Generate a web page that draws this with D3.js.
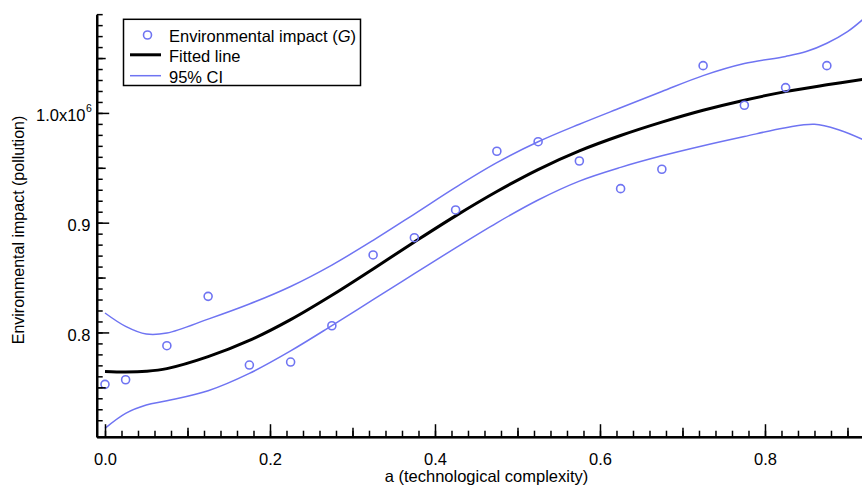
<!DOCTYPE html>
<html>
<head>
<meta charset="utf-8">
<script src="https://cdn.jsdelivr.net/npm/d3@7"></script>
<style>
  html, body { margin: 0; padding: 0; background: #fff; }
  svg { display: block; font-family: Arial, "Liberation Sans", sans-serif; }
</style>
</head>
<body>
<svg id="chart" width="862" height="486"></svg>
<script>
// Observed environmental impact (pollution) against technological complexity a
const pointX = [0, 0.025, 0.075, 0.125, 0.175, 0.225, 0.275, 0.325, 0.375, 0.425,
                0.475, 0.525, 0.575, 0.625, 0.675, 0.725, 0.775, 0.825, 0.875];
const pointY = [752700, 756900, 787900, 832900, 770300, 773000, 806100, 870600, 886300, 911600,
                965100, 973800, 956200, 931000, 948700, 1043100, 1007000, 1023100, 1043100];

// Fitted curve
const fitX = [0, 0.025, 0.05, 0.075, 0.125, 0.175, 0.225, 0.275, 0.325, 0.375, 0.425,
              0.475, 0.525, 0.575, 0.625, 0.675, 0.725, 0.775, 0.825, 0.875, 0.918];
const fitY = [764500, 764000, 764600, 767000, 777900, 792700, 811700, 833900, 857900, 882400, 906200,
              928400, 948400, 965400, 979400, 991600, 1002400, 1011600, 1019400, 1025600, 1030500];

// Upper 95% confidence band
const upperX = [0, 0.025, 0.05, 0.075, 0.125, 0.175, 0.225, 0.275, 0.325, 0.375, 0.425,
                0.475, 0.525, 0.575, 0.625, 0.675, 0.725, 0.775, 0.825, 0.85, 0.875, 0.9, 0.918];
const upperY = [817700, 805500, 798500, 799400, 812100, 825900, 841900, 861400, 883900, 907900, 932200,
                954700, 973700, 989700, 1004700, 1019500, 1034000, 1045000, 1051500, 1055900, 1063500, 1074100, 1084800];

// Lower 95% confidence band
const lowerX = [0, 0.025, 0.05, 0.075, 0.125, 0.175, 0.225, 0.275, 0.325, 0.375, 0.425,
                0.475, 0.525, 0.575, 0.625, 0.675, 0.725, 0.775, 0.825, 0.86, 0.89, 0.918];
const lowerY = [712600, 726200, 733800, 737700, 746900, 762700, 783200, 806200, 829900, 853500, 877100,
                899900, 920700, 937900, 950400, 960900, 970100, 978500, 986500, 989700, 984500, 976000];

// Axis ticks and labels
const xMajorTicks = [0, 0.2, 0.4, 0.6, 0.8];
const xMajorLabels = ["0.0", "0.2", "0.4", "0.6", "0.8"];
const yMajorTicks = [800000, 900000, 1000000];
const yMajorLabels = ["0.8", "0.9", "1.0x10"];
const yLabelExponents = ["", "", "6"];

const legendLabels = ["Environmental impact (", "Fitted line", "95% CI"];
const xTitle = "a (technological complexity)";
const yTitle = "Environmental impact (pollution)";

const blue = "#6f74f2";
const svg = d3.select("#chart");

const x = d3.scaleLinear().domain([-0.01006, 0.9176]).range([96.7, 862]);
const y = d3.scaleLinear().domain([705000, 1089500]).range([436.7, 14.7]);

svg.append("defs").append("clipPath").attr("id", "plot-clip")
  .append("rect").attr("x", 96.7).attr("y", 0).attr("width", 862 - 96.7).attr("height", 436.7);

const line = d3.line().x(d => x(d[0])).y(d => y(d[1])).curve(d3.curveCatmullRom.alpha(0.5));
const pairs = (xs, ys) => xs.map((v, i) => [v, ys[i]]);

const plot = svg.append("g").attr("clip-path", "url(#plot-clip)");

// Confidence band edges
plot.append("path").datum(pairs(upperX, upperY)).attr("d", line)
  .attr("fill", "none").attr("stroke", blue).attr("stroke-width", 1.5);
plot.append("path").datum(pairs(lowerX, lowerY)).attr("d", line)
  .attr("fill", "none").attr("stroke", blue).attr("stroke-width", 1.5);

// Fitted line
plot.append("path").datum(pairs(fitX, fitY)).attr("d", line)
  .attr("fill", "none").attr("stroke", "#000").attr("stroke-width", 3);

// Observations
plot.selectAll("circle.obs").data(pairs(pointX, pointY)).join("circle")
  .attr("class", "obs")
  .attr("cx", d => x(d[0])).attr("cy", d => y(d[1])).attr("r", 4)
  .attr("fill", "none").attr("stroke", blue).attr("stroke-width", 1.6);

// X axis: minor (0.02), medium (0.1) and major (0.2) ticks pointing inward
const xMinor = d3.range(0, 0.9001, 0.02).map(v => +v.toFixed(2));
const xMedium = [0.1, 0.3, 0.5, 0.7, 0.9];
const xAxisG = svg.append("g").attr("transform", "translate(0,436.7)");
xAxisG.append("g").call(d3.axisBottom(x).tickValues(xMinor).tickSizeInner(-6).tickSizeOuter(0).tickFormat(""));
xAxisG.append("g").call(d3.axisBottom(x).tickValues(xMedium).tickSizeInner(-9).tickSizeOuter(0).tickFormat(""));
xAxisG.append("g").call(d3.axisBottom(x).tickValues(xMajorTicks).tickSizeInner(-12.5).tickSizeOuter(0)
  .tickPadding(16.5).tickFormat((d, i) => xMajorLabels[i]));
xAxisG.selectAll(".domain").attr("stroke", "#000").attr("stroke-width", 2);
xAxisG.selectAll(".tick line").attr("stroke", "#000").attr("stroke-width", 1.5);
xAxisG.selectAll(".tick text").attr("fill", "#000").style("font-size", "16.5px")
  .style("font-family", "Arial, 'Liberation Sans', sans-serif");

// Y axis: minor (0.01), medium (0.05) and major (0.1) ticks pointing inward
const yMinor = d3.range(720000, 1090001, 10000);
const yMedium = [750000, 850000, 950000, 1050000];
const yAxisG = svg.append("g").attr("transform", "translate(96.7,0)");
yAxisG.append("g").call(d3.axisLeft(y).tickValues(yMinor).tickSizeInner(-6).tickSizeOuter(0).tickFormat(""));
yAxisG.append("g").call(d3.axisLeft(y).tickValues(yMedium).tickSizeInner(-9).tickSizeOuter(0).tickFormat(""));
yAxisG.append("g").call(d3.axisLeft(y).tickValues(yMajorTicks).tickSizeInner(-12.5).tickSizeOuter(0).tickFormat(""));
yAxisG.selectAll(".domain").attr("stroke", "#000").attr("stroke-width", 2);
yAxisG.selectAll(".tick line").attr("stroke", "#000").attr("stroke-width", 1.5);

// Y tick labels with exponent
yMajorTicks.forEach((v, i) => {
  svg.append("text")
    .attr("x", yLabelExponents[i] ? 85.5 : 90.5)
    .attr("y", y(v) + 8.5)
    .attr("text-anchor", "end")
    .style("font-size", "16.5px").attr("fill", "#000")
    .text(yMajorLabels[i]);
  if (yLabelExponents[i]) {
    svg.append("text").attr("x", 86).attr("y", y(v) - 1)
      .style("font-size", "10.5px").attr("fill", "#000")
      .text(yLabelExponents[i]);
  }
});

// Axis titles
svg.append("text").attr("x", 486.5).attr("y", 482).attr("text-anchor", "middle")
  .style("font-size", "16.5px").attr("fill", "#000").text(xTitle);
svg.append("text").attr("transform", "translate(24,230) rotate(-90)").attr("text-anchor", "middle")
  .style("font-size", "16px").attr("fill", "#000").text(yTitle);

// Legend
const lg = svg.append("g");
lg.append("rect").attr("x", 123.5).attr("y", 19.3).attr("width", 237).attr("height", 66.2)
  .attr("fill", "#fff").attr("stroke", "#000").attr("stroke-width", 1.5);
lg.append("circle").attr("cx", 147.5).attr("cy", 35).attr("r", 4)
  .attr("fill", "none").attr("stroke", blue).attr("stroke-width", 1.6);
lg.append("line").attr("x1", 130).attr("x2", 161).attr("y1", 54.8).attr("y2", 54.8)
  .attr("stroke", "#000").attr("stroke-width", 3);
lg.append("line").attr("x1", 130).attr("x2", 161).attr("y1", 75.7).attr("y2", 75.7)
  .attr("stroke", blue).attr("stroke-width", 1.5);
const t0 = lg.append("text").attr("x", 169).attr("y", 41.7).style("font-size", "16.5px").attr("fill", "#000");
t0.append("tspan").text(legendLabels[0]);
t0.append("tspan").style("font-style", "italic").text("G");
t0.append("tspan").text(")");
lg.append("text").attr("x", 169).attr("y", 62.4).style("font-size", "16.5px").attr("fill", "#000").text(legendLabels[1]);
lg.append("text").attr("x", 169).attr("y", 83.2).style("font-size", "16.5px").attr("fill", "#000").text(legendLabels[2]);
</script>
</body>
</html>
